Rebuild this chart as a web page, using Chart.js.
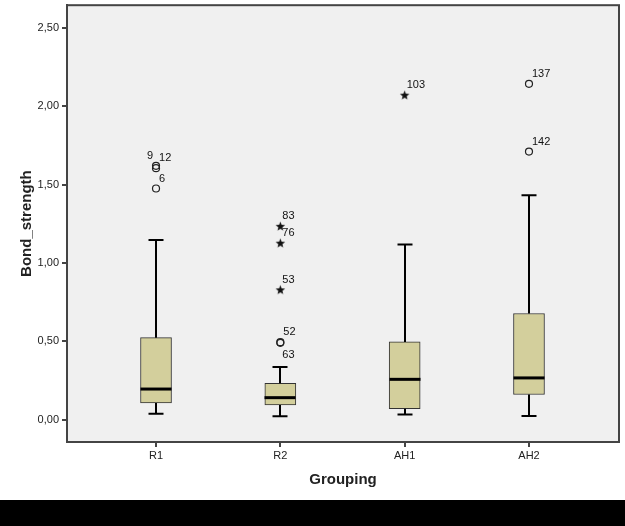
<!DOCTYPE html>
<html>
<head>
<meta charset="utf-8">
<script src="https://cdn.jsdelivr.net/npm/chart.js@4"></script>
<style>
  html, body { margin: 0; padding: 0; background: #fff; }
  #wrap { width: 625px; height: 500px; position: relative; }
  #bar { width: 625px; height: 26px; background: #000; }
</style>
</head>
<body>
<div id="wrap"><canvas id="chart"></canvas></div>
<div id="bar"></div>
<script>
    "use strict";

    // box plot summary per group
    const groups = ['R1', 'R2', 'AH1', 'AH2'];
    const whiskerLow = [0.038, 0.021, 0.032, 0.023];
    const q1 = [0.106, 0.093, 0.070, 0.160];
    const median = [0.195, 0.140, 0.257, 0.266];
    const q3 = [0.523, 0.232, 0.496, 0.677];
    const whiskerHigh = [1.147, 0.336, 1.117, 1.432];

    // outliers (circles) and extremes (stars)
    const circleGroup = [0, 0, 0, 1, 1, 3, 3];
    const circleValue = [1.620, 1.605, 1.475, 0.494, 0.490, 2.143, 1.711];
    const circleCase = ['9', '12', '6', '52', '63', '137', '142'];
    const starGroup = [1, 1, 1, 2];
    const starValue = [1.234, 1.126, 0.828, 2.071];
    const starCase = ['83', '76', '53', '103'];

    const yTicks = [0, 0.5, 1, 1.5, 2, 2.5];
    // which side the case number goes
    const circleLabelSide = ['left', 'right', 'right', 'right', 'below', 'right', 'right'];

    const boxFill = '#d3cf9c';
    const axisColor = '#444';

    function makeStar() {
        const c = document.createElement('canvas');
        c.width = 11; c.height = 11;
        const g = c.getContext('2d');
        g.fillStyle = '#111';
        g.beginPath();
        for (let i = 0; i < 10; i++) {
            const r = i % 2 === 0 ? 5 : 2.1;
            const a = -Math.PI / 2 + i * Math.PI / 5;
            const px = 5.5 + r * Math.cos(a), py = 5.8 + r * Math.sin(a);
            if (i === 0) g.moveTo(px, py); else g.lineTo(px, py);
        }
        g.closePath();
        g.fill();
        return c;
    }

    // plot background + frame
    const frame = {
        id: 'frame',
        beforeDraw: function (chart) {
            const a = chart.chartArea, ctx = chart.ctx;
            ctx.save();
            ctx.fillStyle = '#f0f0f0';
            ctx.fillRect(a.left, a.top, a.right - a.left, a.bottom - a.top);
            ctx.restore();
        },
        afterDraw: function (chart) {
            const a = chart.chartArea, ctx = chart.ctx;
            ctx.save();
            ctx.strokeStyle = axisColor;
            ctx.lineWidth = 2;
            ctx.strokeRect(a.left, a.top, a.right - a.left, a.bottom - a.top);
            ctx.restore();
        }
    };

    // whiskers, medians and case labels
    const boxParts = {
        id: 'boxParts',
        afterDatasetsDraw: function (chart) {
            const ctx = chart.ctx;
            const xs = chart.scales.x, ys = chart.scales.y;
            ctx.save();
            ctx.strokeStyle = '#000';
            groups.forEach(function (g, i) {
                const cx = Math.round(xs.getPixelForValue(i));
                const capHalf = 7.5, boxHalf = 15.5;
                ctx.lineWidth = 2;
                ctx.beginPath();
                ctx.moveTo(cx, ys.getPixelForValue(q3[i]));
                ctx.lineTo(cx, ys.getPixelForValue(whiskerHigh[i]));
                ctx.moveTo(cx - capHalf, ys.getPixelForValue(whiskerHigh[i]));
                ctx.lineTo(cx + capHalf, ys.getPixelForValue(whiskerHigh[i]));
                ctx.moveTo(cx, ys.getPixelForValue(q1[i]));
                ctx.lineTo(cx, ys.getPixelForValue(whiskerLow[i]));
                ctx.moveTo(cx - capHalf, ys.getPixelForValue(whiskerLow[i]));
                ctx.lineTo(cx + capHalf, ys.getPixelForValue(whiskerLow[i]));
                ctx.stroke();
                ctx.lineWidth = 3;
                ctx.beginPath();
                ctx.moveTo(cx - boxHalf, ys.getPixelForValue(median[i]));
                ctx.lineTo(cx + boxHalf, ys.getPixelForValue(median[i]));
                ctx.stroke();
            });

            ctx.fillStyle = '#111';
            ctx.font = '11px "Liberation Sans", Arial, sans-serif';
            ctx.textBaseline = 'middle';
            circleCase.forEach(function (label, i) {
                const px = xs.getPixelForValue(circleGroup[i]);
                const py = ys.getPixelForValue(circleValue[i]);
                const side = circleLabelSide[i];
                if (side === 'left') {
                    ctx.textAlign = 'right';
                    ctx.fillText(label, px - 3, py - 10);
                } else if (side === 'below') {
                    ctx.textAlign = 'left';
                    ctx.fillText(label, px + 2, py + 12);
                } else {
                    ctx.textAlign = 'left';
                    ctx.fillText(label, px + 3, py - 10);
                }
            });
            starCase.forEach(function (label, i) {
                const px = xs.getPixelForValue(starGroup[i]);
                const py = ys.getPixelForValue(starValue[i]);
                ctx.textAlign = 'left';
                ctx.fillText(label, px + 2, py - 10);
            });
            ctx.restore();
        }
    };

    const tickFont = { family: '"Liberation Sans", Arial, sans-serif', size: 11 };
    const titleFont = { family: '"Liberation Sans", Arial, sans-serif', size: 15, weight: 'bold' };

    new Chart(document.getElementById('chart'), {
        type: 'bar',
        data: {
            datasets: [{
                type: 'bar',
                data: groups.map(function (g, i) { return { x: i, y: [q1[i], q3[i]] }; }),
                backgroundColor: boxFill,
                borderColor: '#333',
                borderWidth: 1,
                borderSkipped: false,
                barThickness: 31,
                order: 2
            }, {
                type: 'scatter',
                data: circleValue.map(function (v, i) { return { x: circleGroup[i], y: v }; }),
                pointStyle: 'circle',
                pointRadius: 3.5,
                pointBorderWidth: 1.2,
                borderColor: '#222',
                backgroundColor: 'rgba(0,0,0,0)',
                order: 1
            }, {
                type: 'scatter',
                data: starValue.map(function (v, i) { return { x: starGroup[i], y: v }; }),
                pointStyle: makeStar(),
                order: 1
            }]
        },
        options: {
            responsive: true,
            maintainAspectRatio: false,
            animation: false,
            events: [],
            layout: { padding: { top: 5, right: 6, left: 0, bottom: 0 } },
            plugins: { legend: { display: false }, tooltip: { enabled: false } },
            scales: {
                x: {
                    type: 'linear',
                    offset: false,
                    min: -0.716,
                    max: 3.724,
                    afterBuildTicks: function (s) { s.ticks = [0, 1, 2, 3].map(function (v) { return { value: v }; }); },
                    afterFit: function (s) { s.height = 58; s.paddingLeft = 0; s.paddingRight = 0; },
                    ticks: {
                        color: '#222', font: tickFont, padding: 2, maxRotation: 0,
                        callback: function (v) { return groups[v]; }
                    },
                    grid: { offset: false, drawOnChartArea: false, tickLength: 5, color: axisColor, lineWidth: 2 },
                    border: { color: axisColor, width: 2 },
                    title: { display: true, text: 'Grouping', color: '#222', font: titleFont, padding: { top: 0, bottom: 11 } }
                },
                y: {
                    type: 'linear',
                    min: -0.143,
                    max: 2.645,
                    afterBuildTicks: function (s) { s.ticks = yTicks.map(function (v) { return { value: v }; }); },
                    afterFit: function (s) { s.width = 67; s.paddingTop = 0; s.paddingBottom = 0; },
                    ticks: {
                        color: '#222', font: tickFont, padding: 3,
                        callback: function (v) { return v.toFixed(2).replace('.', ','); }
                    },
                    grid: { drawOnChartArea: false, tickLength: 5, color: axisColor, lineWidth: 2 },
                    border: { color: axisColor, width: 2 },
                    title: { display: true, text: 'Bond_strength', color: '#222', font: titleFont, padding: { top: 18, bottom: 0 } }
                }
            }
        },
        plugins: [frame, boxParts]
    });
</script>
</body>
</html>
